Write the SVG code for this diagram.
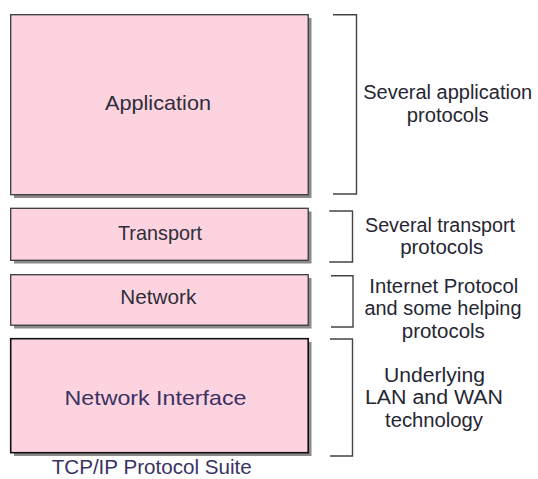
<svg xmlns="http://www.w3.org/2000/svg" width="538" height="479" viewBox="0 0 538 479">
  <style>
    .shadow { fill: #8a8a8a; }
    .layer { fill: #fdd3df; stroke: #3a3a3a; stroke-width: 1.3; }
    .layer-dark { fill: #fdd3df; stroke: #111111; stroke-width: 1.6; }
    .label { font-family: "Liberation Sans", Arial, sans-serif; font-size: 21px; fill: #2e2e3a; text-anchor: middle; }
    .label-ni { font-family: "Liberation Sans", Arial, sans-serif; font-size: 21px; fill: #3a3262; text-anchor: middle; }
    .note { font-family: "Liberation Sans", Arial, sans-serif; font-size: 19.5px; fill: #262633; text-anchor: middle; }
    .bracket { fill: none; stroke: #444444; stroke-width: 1.4; }
  </style>
  <rect width="538" height="479" fill="#ffffff"/>

  <!-- protocol layers -->
  <g id="application">
    <rect class="shadow" x="14" y="18" width="297.5" height="180"/>
    <rect class="layer" x="10.7" y="14.7" width="297.5" height="180"/>
    <text class="label" x="158" y="109.5" textLength="106" lengthAdjust="spacingAndGlyphs">Application</text>
  </g>
  <g id="transport">
    <rect class="shadow" x="14" y="211.5" width="297.5" height="52"/>
    <rect class="layer" x="10.7" y="208.3" width="297.5" height="52"/>
    <text class="label" x="160" y="240" textLength="84" lengthAdjust="spacingAndGlyphs">Transport</text>
  </g>
  <g id="network">
    <rect class="shadow" x="14" y="278" width="297.5" height="50.5"/>
    <rect class="layer" x="10.7" y="274.7" width="297.5" height="50.5"/>
    <text class="label" x="158.3" y="304" textLength="76" lengthAdjust="spacingAndGlyphs">Network</text>
  </g>
  <g id="network-interface">
    <rect class="shadow" x="14" y="342" width="297.5" height="114"/>
    <rect class="layer-dark" x="10.7" y="338.7" width="297.5" height="114"/>
    <text class="label-ni" x="155.5" y="405" textLength="182" lengthAdjust="spacingAndGlyphs">Network Interface</text>
  </g>
  <g id="caption">
    <text class="label-ni" x="151.7" y="474" textLength="200" lengthAdjust="spacingAndGlyphs">TCP/IP Protocol Suite</text>
  </g>

  <!-- brackets grouping each layer -->
  <g id="connectors">
    <path class="bracket" d="M333 14.7 H356.5 V194 H333"/>
    <path class="bracket" d="M329.3 211 H352.5 V262 H329.3"/>
    <path class="bracket" d="M331 275.7 H353 V327 H331"/>
    <path class="bracket" d="M330 339 H352.5 V456 H330"/>
  </g>

  <!-- descriptions -->
  <g id="desc-application">
    <text class="note" x="447.7" y="99" textLength="169" lengthAdjust="spacingAndGlyphs">Several application</text>
    <text class="note" x="447.7" y="122" textLength="82" lengthAdjust="spacingAndGlyphs">protocols</text>
  </g>
  <g id="desc-transport">
    <text class="note" x="440" y="232" textLength="150" lengthAdjust="spacingAndGlyphs">Several transport</text>
    <text class="note" x="441.7" y="253.5" textLength="83" lengthAdjust="spacingAndGlyphs">protocols</text>
  </g>
  <g id="desc-network">
    <text class="note" x="443.8" y="292.7" textLength="149" lengthAdjust="spacingAndGlyphs">Internet Protocol</text>
    <text class="note" x="443" y="315" textLength="157" lengthAdjust="spacingAndGlyphs">and some helping</text>
    <text class="note" x="443.3" y="337.7" textLength="83" lengthAdjust="spacingAndGlyphs">protocols</text>
  </g>
  <g id="desc-interface">
    <text class="note" x="434.5" y="381.7" textLength="101" lengthAdjust="spacingAndGlyphs">Underlying</text>
    <text class="note" x="434" y="404" textLength="138" lengthAdjust="spacingAndGlyphs">LAN and WAN</text>
    <text class="note" x="434" y="426.7" textLength="98" lengthAdjust="spacingAndGlyphs">technology</text>
  </g>
</svg>
